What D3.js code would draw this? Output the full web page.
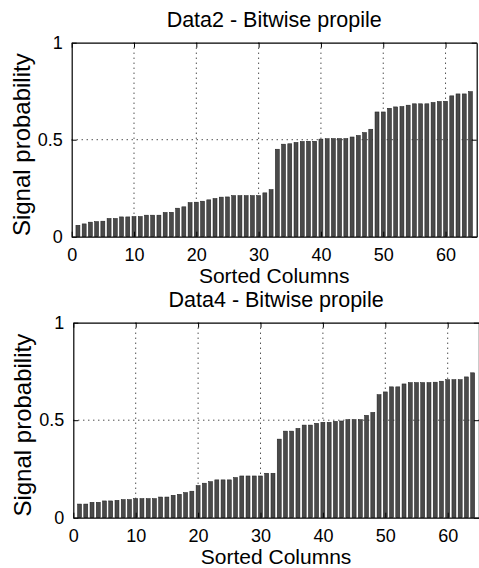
<!DOCTYPE html>
<html>
<head>
<meta charset="utf-8">
<script src="https://cdn.jsdelivr.net/npm/d3@7"></script>
<style>
    body { margin: 0; background: #fff; }
    text { font-family: 'Liberation Sans', Arial, sans-serif; fill: #000; }
</style>
</head>
<body>
<div id="chart"></div>
<script>
// Sorted column signal probabilities
const data2 = [
    0.059, 0.066, 0.075, 0.078, 0.080, 0.094, 0.094, 0.102, 0.102, 0.104,
    0.104, 0.111, 0.111, 0.111, 0.125, 0.126, 0.147, 0.154, 0.176, 0.178,
    0.183, 0.190, 0.197, 0.204, 0.205, 0.212, 0.212, 0.212, 0.212, 0.212,
    0.226, 0.243, 0.451, 0.477, 0.479, 0.486, 0.491, 0.492, 0.492, 0.503,
    0.505, 0.506, 0.506, 0.506, 0.514, 0.522, 0.537, 0.554, 0.643, 0.643,
    0.662, 0.669, 0.671, 0.678, 0.685, 0.685, 0.685, 0.692, 0.697, 0.698,
    0.726, 0.736, 0.736, 0.748
];
const data4 = [
    0.070, 0.070, 0.079, 0.079, 0.086, 0.086, 0.089, 0.093, 0.093, 0.098,
    0.098, 0.098, 0.098, 0.106, 0.106, 0.115, 0.120, 0.129, 0.136, 0.165,
    0.177, 0.185, 0.194, 0.194, 0.194, 0.206, 0.214, 0.214, 0.214, 0.214,
    0.228, 0.228, 0.403, 0.444, 0.444, 0.458, 0.475, 0.475, 0.484, 0.489,
    0.489, 0.494, 0.496, 0.503, 0.503, 0.503, 0.525, 0.540, 0.631, 0.645,
    0.671, 0.671, 0.686, 0.693, 0.693, 0.693, 0.693, 0.695, 0.700, 0.708,
    0.708, 0.708, 0.722, 0.743
];
const xTicks = [0, 10, 20, 30, 40, 50, 60];
const yTicks = [0, 0.5, 1];
const titles = ['Data2 - Bitwise propile', 'Data4 - Bitwise propile'];
const xLabel = 'Sorted Columns';
const yLabel = 'Signal probability';

const W = 479, H = 568;
const svg = d3.select('#chart').append('svg')
    .attr('width', W)
    .attr('height', H);

function drawPanel(values, title, box) {
    const x = d3.scaleLinear().domain([0, 65]).range([box.left, box.right]);
    const y = d3.scaleLinear().domain([0, 1]).range([box.bottom, box.top]);
    const g = svg.append('g');
    const bw = (x(0.64) - x(0));

    // grid (dotted)
    g.append('g')
        .selectAll('line')
        .data(xTicks.filter(d => d > 0))
        .enter().append('line')
        .attr('x1', d => x(d)).attr('x2', d => x(d))
        .attr('y1', box.top).attr('y2', box.bottom)
        .attr('stroke', '#000')
        .attr('stroke-width', 1)
        .attr('stroke-dasharray', '1,4');
    g.append('g')
        .selectAll('line')
        .data(yTicks.filter(d => d > 0 && d < 1))
        .enter().append('line')
        .attr('x1', box.left).attr('x2', box.right)
        .attr('y1', d => y(d)).attr('y2', d => y(d))
        .attr('stroke', '#000')
        .attr('stroke-width', 1)
        .attr('stroke-dasharray', '1,4');

    // bars
    g.append('g')
        .selectAll('rect')
        .data(values)
        .enter().append('rect')
        .attr('x', (d, i) => x(i + 1) - bw / 2)
        .attr('y', d => y(d))
        .attr('width', bw)
        .attr('height', d => y(0) - y(d))
        .attr('fill', '#4a4a4a')
        .attr('stroke', '#1a1a1a')
        .attr('stroke-width', 0.5);

    // axes: bottom/left with labels, top/right without, ticks inward
    g.append('g')
        .attr('transform', 'translate(0,' + box.bottom + ')')
        .call(d3.axisBottom(x).tickValues(xTicks).tickSize(-5).tickPadding(12).tickSizeOuter(0))
        .call(a => a.selectAll('text').style('font-size', '18px'));
    g.append('g')
        .attr('transform', 'translate(' + box.left + ',0)')
        .call(d3.axisLeft(y).tickValues(yTicks).tickFormat(d3.format('')).tickSize(-5).tickPadding(9).tickSizeOuter(0))
        .call(a => a.selectAll('text').style('font-size', '18px'));
    g.append('g')
        .attr('transform', 'translate(0,' + box.top + ')')
        .call(d3.axisTop(x).tickValues(xTicks).tickSize(-5).tickFormat('').tickSizeOuter(0));
    g.append('g')
        .attr('transform', 'translate(' + box.right + ',0)')
        .call(d3.axisRight(y).tickValues(yTicks).tickSize(-5).tickFormat('').tickSizeOuter(0));
    g.selectAll('.domain').attr('stroke', '#000').attr('stroke-width', 1.2);
    g.selectAll('.tick line').attr('stroke', '#000');

    // title and axis labels
    g.append('text')
        .attr('x', (box.left + box.right) / 2)
        .attr('y', box.top - 16)
        .attr('text-anchor', 'middle')
        .style('font-size', '21.5px')
        .text(title);
    g.append('text')
        .attr('x', (box.left + box.right) / 2)
        .attr('y', box.bottom + 46)
        .attr('text-anchor', 'middle')
        .style('font-size', '21px')
        .text(xLabel);
    g.append('text')
        .attr('transform', 'translate(' + (box.left - 42) + ',' + ((box.top + box.bottom) / 2 + 5) + ') rotate(-90)')
        .attr('text-anchor', 'middle')
        .style('font-size', '24px')
        .text(yLabel);
}

drawPanel(data2, titles[0], { left: 71.7, right: 476.7, top: 42.7, bottom: 236.7 });
drawPanel(data4, titles[1], { left: 73.3, right: 478.9, top: 322.7, bottom: 517.7 });
</script>
</body>
</html>
